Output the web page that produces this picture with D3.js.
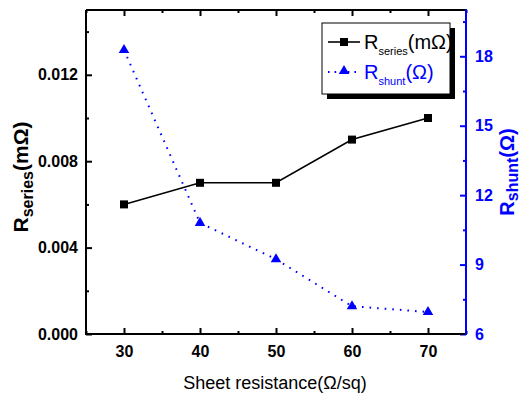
<!DOCTYPE html>
<html>
<head>
<meta charset="utf-8">
<script src="https://cdn.jsdelivr.net/npm/d3@7"></script>
<style>
  body { margin: 0; background: #fff; }
  text { font-family: "Liberation Sans", Arial, sans-serif; }
</style>
</head>
<body>
<div id="chart"></div>
<script>
// data
var sheetRes = [30, 40, 50, 60, 70];
var rSeries = [0.006, 0.007, 0.007, 0.009, 0.010];
var rShunt = [18.27, 10.8, 9.23, 7.2, 6.95];
var xTicks = [30, 40, 50, 60, 70];
var leftTicks = [0.000, 0.004, 0.008, 0.012];
var rightTicks = [6, 9, 12, 15, 18];

var margin = {top: 10, right: 56, bottom: 64, left: 86},
    width = 522 - margin.left - margin.right,
    height = 398 - margin.top - margin.bottom;

var svg = d3.select("#chart")
  .append("svg")
    .attr("width", 522)
    .attr("height", 398)
  .append("g")
    .attr("transform", "translate(" + margin.left + "," + margin.top + ")");

var x = d3.scaleLinear().domain([25, 75]).range([0, width]);
var yL = d3.scaleLinear().domain([0, 0.015]).range([height, 0]);
var yR = d3.scaleLinear().domain([6, 20]).range([height, 0]);

var blue = "#0000ff";

// minor ticks
var xMinor = d3.range(25, 76, 5).filter(function(v) { return xTicks.indexOf(v) < 0; });
var lMinor = [0.002, 0.006, 0.010, 0.014];
var rMinor = [7.5, 10.5, 13.5, 16.5, 19.5];

function styleAxis(g, color, fs) {
  g.select(".domain").remove();
  g.selectAll("line").attr("stroke", color).attr("stroke-width", 2);
  g.selectAll("text")
    .style("font-size", fs + "px")
    .style("font-weight", "bold")
    .attr("fill", color);
}

// bottom axis
svg.append("g")
  .attr("transform", "translate(0," + height + ")")
  .call(d3.axisBottom(x).tickValues(xTicks).tickSize(-6).tickPadding(12).tickFormat(d3.format("d")))
  .call(function(g) { styleAxis(g, "#000", 16); });
svg.append("g")
  .attr("transform", "translate(0," + height + ")")
  .call(d3.axisBottom(x).tickValues(xMinor).tickSize(-3).tickFormat(""))
  .call(function(g) { styleAxis(g, "#000", 16); });

// top axis
svg.append("g")
  .call(d3.axisTop(x).tickValues(xTicks).tickSize(-6).tickFormat(""))
  .call(function(g) { styleAxis(g, "#000", 16); });
svg.append("g")
  .call(d3.axisTop(x).tickValues(xMinor).tickSize(-3).tickFormat(""))
  .call(function(g) { styleAxis(g, "#000", 16); });

// left axis
svg.append("g")
  .call(d3.axisLeft(yL).tickValues(leftTicks).tickSize(-6).tickPadding(8).tickFormat(d3.format(".3f")))
  .call(function(g) { styleAxis(g, "#000", 16); });
svg.append("g")
  .call(d3.axisLeft(yL).tickValues(lMinor).tickSize(-3).tickFormat(""))
  .call(function(g) { styleAxis(g, "#000", 16); });

// right axis
svg.append("g")
  .attr("transform", "translate(" + width + ",0)")
  .call(d3.axisRight(yR).tickValues(rightTicks).tickSize(-6).tickPadding(9).tickFormat(d3.format("d")))
  .call(function(g) { styleAxis(g, blue, 16); });
svg.append("g")
  .attr("transform", "translate(" + width + ",0)")
  .call(d3.axisRight(yR).tickValues(rMinor).tickSize(-3).tickFormat(""))
  .call(function(g) { styleAxis(g, blue, 16); });

// frame
svg.append("line").attr("x1", 0).attr("x2", width).attr("y1", height).attr("y2", height)
  .attr("stroke", "#000").attr("stroke-width", 2);
svg.append("line").attr("x1", 0).attr("x2", width).attr("y1", 0).attr("y2", 0)
  .attr("stroke", "#000").attr("stroke-width", 2);
svg.append("line").attr("x1", 0).attr("x2", 0).attr("y1", 0).attr("y2", height + 1)
  .attr("stroke", "#000").attr("stroke-width", 2);
svg.append("line").attr("x1", width).attr("x2", width).attr("y1", -1).attr("y2", height + 1)
  .attr("stroke", blue).attr("stroke-width", 2);

// series lines
var seriesData = sheetRes.map(function(d, i) { return {x: d, y: rSeries[i]}; });
var shuntData = sheetRes.map(function(d, i) { return {x: d, y: rShunt[i]}; });

svg.append("path")
  .datum(shuntData)
  .attr("fill", "none")
  .attr("stroke", blue)
  .attr("stroke-width", 2)
  .attr("stroke-dasharray", "1.6,6")
  .attr("d", d3.line().x(function(d) { return x(d.x); }).y(function(d) { return yR(d.y); }));

svg.append("path")
  .datum(seriesData)
  .attr("fill", "none")
  .attr("stroke", "#000")
  .attr("stroke-width", 1.6)
  .attr("d", d3.line().x(function(d) { return x(d.x); }).y(function(d) { return yL(d.y); }));

// markers
svg.selectAll(".sq")
  .data(seriesData)
  .enter()
  .append("rect")
    .attr("x", function(d) { return x(d.x) - 4; })
    .attr("y", function(d) { return yL(d.y) - 4; })
    .attr("width", 8)
    .attr("height", 8)
    .attr("fill", "#000");

var tri = d3.symbol().type(d3.symbolTriangle).size(48);
svg.selectAll(".tri")
  .data(shuntData)
  .enter()
  .append("path")
    .attr("d", tri)
    .attr("transform", function(d) { return "translate(" + x(d.x) + "," + yR(d.y) + ")"; })
    .attr("fill", blue);

// legend
var lg = svg.append("g").attr("transform", "translate(236,13)");
lg.append("rect").attr("x", 5).attr("y", 5).attr("width", 128).attr("height", 71).attr("fill", "#000");
lg.append("rect").attr("x", 0).attr("y", 0).attr("width", 128).attr("height", 71)
  .attr("fill", "#fff").attr("stroke", "#000").attr("stroke-width", 1);

lg.append("line").attr("x1", 6).attr("x2", 38).attr("y1", 19).attr("y2", 19)
  .attr("stroke", "#000").attr("stroke-width", 1.6);
lg.append("rect").attr("x", 18).attr("y", 15).attr("width", 8).attr("height", 8).attr("fill", "#000");
var t1 = lg.append("text").attr("x", 42).attr("y", 26).attr("fill", "#000").style("font-size", "20px");
t1.append("tspan").text("R");
t1.append("tspan").attr("dy", 6).style("font-size", "11px").text("series");
t1.append("tspan").attr("dy", -6).text("(mΩ)");

lg.append("line").attr("x1", 6).attr("x2", 38).attr("y1", 49).attr("y2", 49)
  .attr("stroke", blue).attr("stroke-width", 2).attr("stroke-dasharray", "1.6,5");
lg.append("path").attr("d", tri).attr("transform", "translate(22,48)").attr("fill", blue);
var t2 = lg.append("text").attr("x", 42).attr("y", 56).attr("fill", blue)
  .style("font-size", "20px");
t2.append("tspan").text("R");
t2.append("tspan").attr("dy", 6).style("font-size", "11px").text("shunt");
t2.append("tspan").attr("dy", -6).text("(Ω)");

// axis titles
svg.append("text")
  .attr("x", width / 2 - 1)
  .attr("y", height + 55)
  .attr("text-anchor", "middle")
  .style("font-size", "18px")
  .text("Sheet resistance(Ω/sq)");

var lt = svg.append("text")
  .attr("transform", "translate(-58," + (height / 2 + 5) + ")rotate(-90)")
  .attr("text-anchor", "middle")
  .style("font-size", "21px")
  .style("font-weight", "bold");
lt.append("tspan").text("R");
lt.append("tspan").attr("dy", 5).style("font-size", "16px").text("series");
lt.append("tspan").attr("dy", -5).text("(mΩ)");

var rt = svg.append("text")
  .attr("transform", "translate(" + (width + 48) + "," + (height / 2) + ")rotate(-90)")
  .attr("text-anchor", "middle")
  .attr("fill", blue)
  .style("font-size", "20px")
  .style("font-weight", "bold");
rt.append("tspan").text("R");
rt.append("tspan").attr("dy", 4).style("font-size", "16px").text("shunt");
rt.append("tspan").attr("dy", -4).text("(Ω)");
</script>
</body>
</html>
